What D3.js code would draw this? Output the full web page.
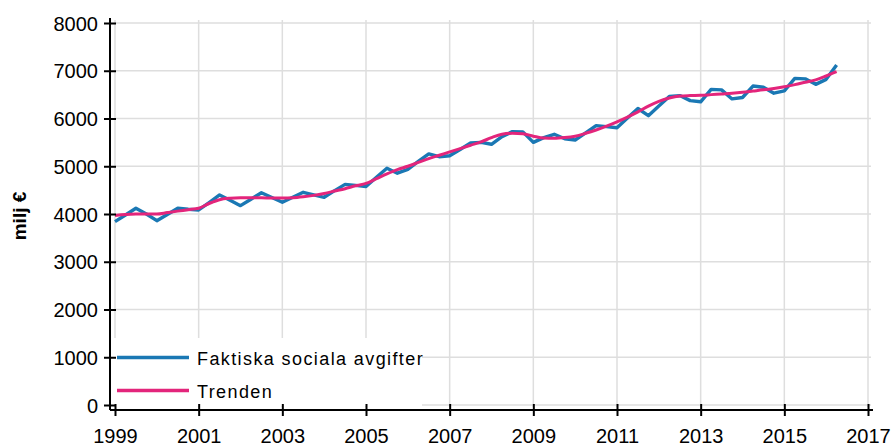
<!DOCTYPE html>
<html>
<head>
<meta charset="utf-8">
<script src="https://cdn.jsdelivr.net/npm/d3@7"></script>
<style>
  body { margin: 0; background: #fff; }
  svg { display: block; }
  text { font-family: "Liberation Sans", Arial, sans-serif; fill: #000; }
</style>
</head>
<body>
<svg id="chart" width="891" height="446"></svg>
<script>
// Quarterly data 1999Q1 .. 2016Q2
const startYear = 1999;
const faktiska = [
  3840, 3980, 4120, 4000,
  3860, 3990, 4120, 4100,
  4085, 4240, 4400, 4290,
  4175, 4310, 4445, 4345,
  4245, 4350, 4455, 4400,
  4350, 4490, 4620, 4600,
  4575, 4770, 4960, 4855,
  4935, 5100, 5260, 5200,
  5220, 5350, 5490, 5500,
  5460, 5620, 5725, 5720,
  5500, 5600, 5670, 5575,
  5550, 5700, 5850, 5830,
  5805, 6010, 6210, 6060,
  6260, 6460, 6480, 6375,
  6350, 6610, 6600, 6410,
  6440, 6680, 6655, 6530,
  6580, 6840, 6830, 6715,
  6820, 7120
];
const trenden = [
  3970, 3990, 4000, 4000,
  4000, 4030, 4060, 4090,
  4120, 4220, 4300, 4330,
  4340, 4340, 4340, 4335,
  4335, 4340, 4360, 4390,
  4430, 4480, 4530, 4590,
  4640, 4740, 4840, 4930,
  5000, 5080, 5160, 5230,
  5300, 5370, 5440, 5510,
  5600, 5670, 5690, 5680,
  5630, 5590, 5585, 5600,
  5630, 5690, 5760, 5840,
  5930, 6030, 6140, 6260,
  6360, 6430, 6470, 6480,
  6485, 6500, 6515, 6530,
  6550, 6575, 6600, 6630,
  6665, 6710, 6760, 6810,
  6890, 6980
];
const yTicks = [0, 1000, 2000, 3000, 4000, 5000, 6000, 7000, 8000];
const xTicks = [1999, 2001, 2003, 2005, 2007, 2009, 2011, 2013, 2015, 2017];
const seriesNames = ["Faktiska sociala avgifter", "Trenden"];
const seriesColors = ["#1a78b4", "#e3257b"];
const yLabel = "milj €";

const svg = d3.select("#chart");
const x = d3.scaleLinear().domain([1999, 2017]).range([115, 868]);
const y = d3.scaleLinear().domain([0, 8000]).range([405, 23]);
const axisX = 110, axisY = 410;

const toPts = arr => arr.map((v, i) => ({ t: startYear + i / 4, v }));

// Gridlines
const grid = svg.append("g").attr("stroke", "#dedede").attr("stroke-width", 1.5);
grid.selectAll("line.h").data(yTicks).join("line")
  .attr("x1", x(1999)).attr("x2", x(2017) + 3)
  .attr("y1", d => y(d)).attr("y2", d => y(d));
grid.selectAll("line.v").data(xTicks).join("line")
  .attr("x1", d => x(d)).attr("x2", d => x(d))
  .attr("y1", 20).attr("y2", 407);

// Lines
const line = d3.line().x(d => x(d.t)).y(d => y(d.v));
svg.append("path").datum(toPts(faktiska))
  .attr("fill", "none").attr("stroke", seriesColors[0]).attr("stroke-width", 3.4)
  .attr("stroke-linejoin", "round").attr("d", line);
svg.append("path").datum(toPts(trenden))
  .attr("fill", "none").attr("stroke", seriesColors[1]).attr("stroke-width", 3)
  .attr("stroke-linejoin", "round").attr("d", line.curve(d3.curveMonotoneX));

// Legend background
svg.append("rect").attr("x", axisX + 2).attr("y", 338).attr("width", 310).attr("height", 68).attr("fill", "#fff");
const legend = svg.append("g");
seriesNames.forEach((name, i) => {
  const cy = 357.5 + i * 33;
  legend.append("line").attr("x1", 117).attr("x2", 189).attr("y1", cy).attr("y2", cy)
    .attr("stroke", seriesColors[i]).attr("stroke-width", 3.5);
  legend.append("text").attr("x", 197).attr("y", cy + 7)
    .attr("font-size", 18).attr("letter-spacing", 1.4).text(name);
});

// Y axis
const yAxis = svg.append("g").attr("transform", `translate(${axisX},0)`)
  .call(d3.axisLeft(y).tickValues(yTicks).tickSize(6).tickPadding(12).tickFormat(d3.format("d")));
yAxis.select(".domain").remove();
yAxis.selectAll(".tick line").attr("x1", -6).attr("x2", 6).attr("stroke", "#000").attr("stroke-width", 2);
yAxis.selectAll(".tick text").attr("font-size", 20).attr("font-family", "Liberation Sans, Arial, sans-serif").attr("x", -12).attr("dy", "0.36em");
svg.append("line").attr("x1", axisX).attr("x2", axisX).attr("y1", 18).attr("y2", axisY)
  .attr("stroke", "#000").attr("stroke-width", 2);

// X axis
const xAxis = svg.append("g").attr("transform", `translate(0,${axisY})`)
  .call(d3.axisBottom(x).tickValues(xTicks).tickSize(6).tickFormat(d3.format("d")));
xAxis.select(".domain").remove();
xAxis.selectAll(".tick line").attr("y1", -6).attr("y2", 6).attr("stroke", "#000").attr("stroke-width", 2);
xAxis.selectAll(".tick text").attr("font-size", 20).attr("font-family", "Liberation Sans, Arial, sans-serif").attr("y", 33).attr("dy", 0);
svg.append("line").attr("x1", axisX).attr("x2", 873).attr("y1", axisY).attr("y2", axisY)
  .attr("stroke", "#000").attr("stroke-width", 2);

// Y label
svg.append("text").attr("transform", `translate(26,216) rotate(-90)`)
  .attr("text-anchor", "middle").attr("font-size", 19).attr("font-weight", "bold").text(yLabel);
</script>
</body>
</html>
